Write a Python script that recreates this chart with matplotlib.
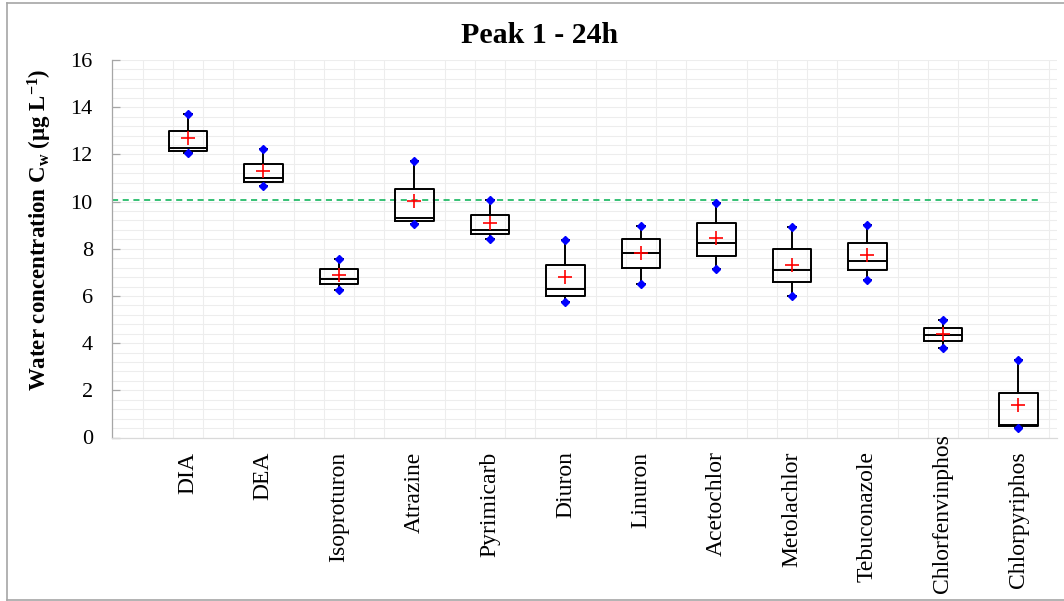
import numpy as np
import matplotlib
matplotlib.use("Agg")
import matplotlib.pyplot as plt
from matplotlib.lines import Line2D
from matplotlib.transforms import offset_copy

plt.rcParams['font.family'] = ['Liberation Serif', 'DejaVu Serif']
plt.rcParams['mathtext.default'] = 'regular'

categories = ["DIA", "DEA", "Isoproturon", "Atrazine", "Pyrimicarb", "Diuron",
              "Linuron", "Acetochlor", "Metolachlor", "Tebuconazole",
              "Chlorfenvinphos", "Chlorpyriphos"]
whis_low = [12.05, 10.65, 6.27, 9.03, 8.43, 5.73, 6.51, 7.13, 6.01, 6.68, 3.81, 0.39]
q1 =       [12.14, 10.81, 6.49, 9.17, 8.62, 5.98, 7.17, 7.70, 6.57, 7.09, 4.07, 0.48]
median =   [12.28, 11.01, 6.73, 9.32, 8.79, 6.28, 7.84, 8.26, 7.09, 7.50, 4.36, 0.51]
q3 =       [12.99, 11.60, 7.14, 10.53, 9.42, 7.33, 8.42, 9.10, 7.98, 8.26, 4.66, 1.90]
whis_high = [13.71, 12.21, 7.56, 11.74, 10.07, 8.39, 8.98, 9.95, 8.93, 9.02, 4.97, 3.27]
mean =     [12.68, 11.29, 6.88, 10.04, 9.11, 6.80, 7.81, 8.46, 7.33, 7.72, 4.40, 1.39]
reference_level = 10.05

W, H = 1064, 601
fig = plt.figure(figsize=(W / 100, H / 100), dpi=100)
ax = fig.add_axes([112.3 / W, 1 - 437.5 / H, (1057 - 112.3) / W, (437.5 - 60) / H])

positions = np.arange(1, len(categories) + 1)
stats = []
for i, c in enumerate(categories):
    stats.append(dict(label=c, whislo=whis_low[i], q1=q1[i], med=median[i],
                      q3=q3[i], whishi=whis_high[i], mean=mean[i], fliers=[]))

ax.bxp(stats, positions=positions, widths=0.51, capwidths=0.1, showmeans=True,
       showfliers=False,
       boxprops=dict(color='black', linewidth=1.4),
       medianprops=dict(color='black', linewidth=1.4),
       whiskerprops=dict(color='black', linewidth=1.4),
       capprops=dict(color='black', linewidth=1.4),
       meanprops=dict(marker='+', markeredgecolor='red', markersize=9.5,
                      markeredgewidth=1.2, linestyle='none'),
       zorder=3)

ax.plot(positions, whis_low, linestyle='none', marker='D', markersize=4,
        color='blue', zorder=4)
ax.plot(positions, whis_high, linestyle='none', marker='D', markersize=4,
        color='blue', zorder=4)

ax.plot([0, 12.3], [reference_level, reference_level], color='#00b050',
        linewidth=1.1, linestyle=(0, (4, 3)), zorder=2)

ax.set_xlim(0, 12.51)
ax.set_ylim(0, 16)
ax.set_xticks(positions)
ax.set_xticklabels([])
ax.set_xticks(np.arange(0.4, 12.5, 0.4), minor=True)
ax.set_yticks(np.arange(0, 17, 2))
ax.set_yticks(np.arange(0, 16.01, 0.4), minor=True)
ax.tick_params(axis='x', which='both', length=0)
ax.tick_params(axis='y', which='major', direction='in', length=5.5, width=0.9,
               color='#a6a6a6', pad=14, labelsize=16)
ax.tick_params(axis='y', which='minor', length=0)
ax.grid(True, which='both', color='#ededed', linewidth=0.8, zorder=0)
ax.grid(False, which='major', axis='x')
ax.set_axisbelow(True)

for s in ['top', 'right']:
    ax.spines[s].set_visible(False)
ax.spines['left'].set_color('#a6a6a6')
ax.spines['left'].set_linewidth(0.9)
ax.spines['bottom'].set_color('#d9d9d9')
ax.spines['bottom'].set_linewidth(0.9)

# category labels (rotated); long ones are moved up to stay inside the figure
trans = offset_copy(ax.get_xaxis_transform(), fig=fig, x=0, y=-14, units='dots')
labels = []
for p, c in zip(positions, categories):
    labels.append(ax.text(p, 0, c, rotation=90, ha='center', va='top',
                          fontsize=17, transform=trans))
fig.canvas.draw()
renderer = fig.canvas.get_renderer()
for t in labels:
    bb = t.get_window_extent(renderer)
    if bb.y0 < 8:
        shift = 8 - bb.y0
        t.set_transform(offset_copy(ax.get_xaxis_transform(), fig=fig, x=0,
                                    y=-14 + shift, units='dots'))

fig.text(540 / W, 1 - 43 / H, "Peak 1 - 24h", ha='center', va='baseline',
         fontsize=21.5, fontweight='bold')
fig.text(40 / W, 1 - 230 / H,
         r'Water concentration C$_{\mathregular{w}}$ (µg L$^{\mathregular{-1}}$)',
         rotation=90, ha='center', va='center', fontsize=16.5, fontweight='bold')

# outer frame
for (x0, y0, x1, y1) in [(6.5, 3, 6.5, 600), (6.5, 3, 1064, 3), (6.5, 600, 1064, 600)]:
    fig.add_artist(Line2D([x0 / W, x1 / W], [1 - y0 / H, 1 - y1 / H],
                          color='#a6a6a6', linewidth=1.2))

fig.savefig("out.png", dpi=100)
